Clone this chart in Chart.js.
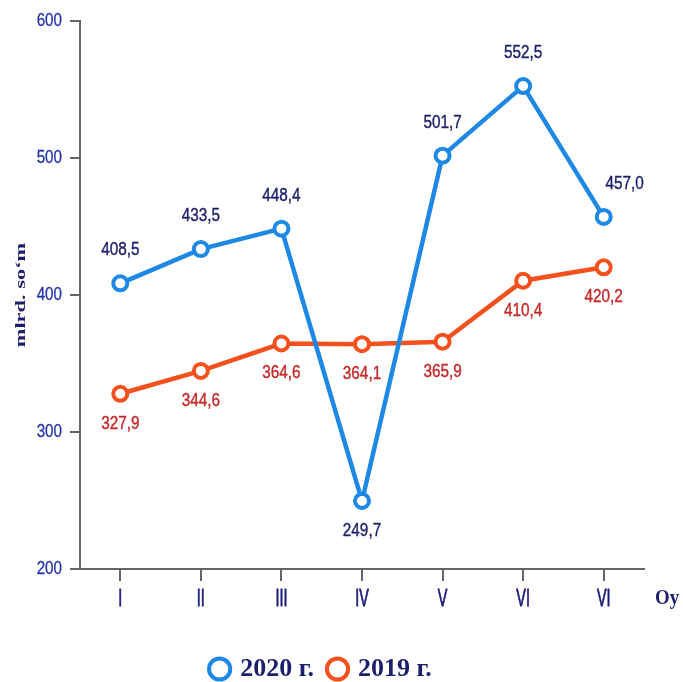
<!DOCTYPE html>
<html>
<head>
<meta charset="utf-8">
<script src="https://cdn.jsdelivr.net/npm/chart.js@4"></script>
<style>
  body { margin: 0; background: #fff; }
  #wrap { width: 683px; height: 682px; }
</style>
</head>
<body>
<div id="wrap"><canvas id="chart"></canvas></div>
<script>
const months = ['I', 'II', 'III', 'IV', 'V', 'VI', 'VI'];
const values2020 = [408.5, 433.5, 448.4, 249.7, 501.7, 552.5, 457.0];
const values2019 = [327.9, 344.6, 364.6, 364.1, 365.9, 410.4, 420.2];
const yTicks = [200, 300, 400, 500, 600];
// where each value label sits: 'up', 'upright' or 'down'
const pos2020 = ['up', 'up', 'up', 'down', 'up', 'up', 'upright'];
const pos2019 = ['down', 'down', 'down', 'down', 'down', 'down', 'down'];

const blue = '#1e88e5';
const red = '#f4511e';
const navy = '#1c1f6b';
const sans = "'Liberation Sans', Arial, sans-serif";
const serif = "'Liberation Serif', 'Times New Roman', serif";

// text squeezed sideways (the reference uses a narrow face), with a thin
// stroke to make it a bit heavier
function drawText(ctx, txt, x, y, font, color, align, sx, weight) {
  ctx.save();
  ctx.translate(x, y);
  ctx.scale(sx, 1);
  ctx.font = font;
  ctx.fillStyle = color;
  ctx.strokeStyle = color;
  ctx.lineWidth = weight || 0;
  ctx.textAlign = align;
  ctx.textBaseline = 'middle';
  ctx.fillText(txt, 0, 0);
  if (weight) ctx.strokeText(txt, 0, 0);
  ctx.restore();
}

const labelPlugin = {
  id: 'valueLabels',
  afterDatasetsDraw(chart) {
    const ctx = chart.ctx;
    const settings = [
      { pos: pos2020, color: navy },
      { pos: pos2019, color: '#c62828' }
    ];
    chart.data.datasets.forEach((ds, i) => {
      const meta = chart.getDatasetMeta(i);
      meta.data.forEach((pt, j) => {
        const txt = ds.data[j].toFixed(1).replace('.', ',');
        const p = settings[i].pos[j];
        let x = pt.x, y;
        if (p === 'down') {
          y = pt.y + 30;
        } else {
          y = pt.y - 33;
        }
        if (p === 'upright') x += 21;
        drawText(ctx, txt, x, y, '18px ' + sans, settings[i].color, 'center', 0.85, 0.4);
      });
    });
  },
  afterDraw(chart) {
    const ctx = chart.ctx;
    const xs = chart.scales.x;
    const ys = chart.scales.y;
    xs.ticks.forEach((t, i) => {
      drawText(ctx, months[i], xs.getPixelForTick(i), xs.top + 30, '24px ' + sans, '#1a1a7a', 'center', 0.6, 0.8);
    });
    ys.ticks.forEach((t, i) => {
      drawText(ctx, String(t.value), ys.right - 18, ys.getPixelForTick(i), '19px ' + sans, '#2233aa', 'right', 0.8, 0.3);
    });
    drawText(ctx, 'Oy', chart.chartArea.right + 11, xs.top + 30, 'bold 21px ' + serif, navy, 'left', 0.9);

    // y axis title, rotated
    ctx.save();
    ctx.translate(21, (chart.chartArea.top + chart.chartArea.bottom) / 2);
    ctx.rotate(-Math.PI / 2);
    ctx.scale(1.6, 1);
    ctx.font = 'bold 14px ' + serif;
    ctx.fillStyle = navy;
    ctx.textAlign = 'center';
    ctx.textBaseline = 'middle';
    ctx.fillText('mlrd. so‘m', 0, 0);
    ctx.restore();
  }
};

new Chart(document.getElementById('chart'), {
  type: 'line',
  data: {
    labels: months,
    datasets: [
      {
        label: '2020 г.',
        data: values2020,
        borderColor: blue,
        backgroundColor: '#fff',
        borderWidth: 4.5,
        pointRadius: 7,
        pointBorderWidth: 4,
        pointBackgroundColor: '#fff',
        pointBorderColor: blue,
        tension: 0
      },
      {
        label: '2019 г.',
        data: values2019,
        borderColor: red,
        backgroundColor: '#fff',
        borderWidth: 4.5,
        pointRadius: 7,
        pointBorderWidth: 4,
        pointBackgroundColor: '#fff',
        pointBorderColor: red,
        tension: 0
      }
    ]
  },
  options: {
    responsive: true,
    maintainAspectRatio: false,
    animation: false,
    layout: { padding: { top: 21, right: 39, left: 0, bottom: -10 } },
    plugins: {
      legend: {
        position: 'bottom',
        labels: {
          usePointStyle: true,
          pointStyle: 'circle',
          boxWidth: 15,
          boxHeight: 15,
          padding: 16,
          color: navy,
          font: { family: serif, size: 26, weight: 'bold' }
        }
      },
      tooltip: { enabled: false }
    },
    scales: {
      x: {
        offset: true,
        afterFit(scale) { scale.height = 71; },
        grid: {
          drawOnChartArea: false,
          drawTicks: true,
          tickLength: 12,
          color: '#666',
          lineWidth: 2
        },
        border: { color: '#666', width: 2 },
        ticks: { display: false }
      },
      y: {
        min: 200,
        max: 600,
        afterBuildTicks(scale) {
          scale.ticks = yTicks.map(v => ({ value: v }));
        },
        afterFit(scale) { scale.width = 80; },
        grid: {
          drawOnChartArea: false,
          drawTicks: true,
          tickLength: 10,
          color: '#666',
          lineWidth: 2
        },
        border: { color: '#666', width: 2 },
        ticks: { display: false }
      }
    }
  },
  plugins: [labelPlugin]
});
</script>
</body>
</html>
